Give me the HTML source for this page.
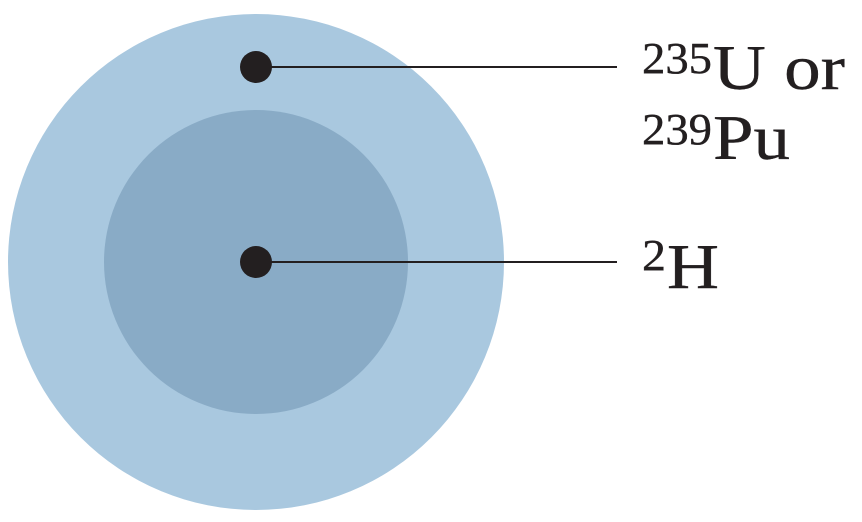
<!DOCTYPE html>
<html><head><meta charset="utf-8"><style>
html,body{margin:0;padding:0;background:#fff;}
svg{display:block;}
text{font-family:"Liberation Serif",serif;fill:#231f20;stroke:#231f20;stroke-width:0.4;}
</style></head><body>
<svg width="862" height="522" viewBox="0 0 862 522">
<circle cx="256" cy="262" r="248" fill="#a9c8df"/>
<circle cx="256" cy="262" r="152" fill="#89abc6"/>
<line x1="256" y1="67" x2="617" y2="67" stroke="#231f20" stroke-width="2"/>
<line x1="256" y1="262" x2="617" y2="262" stroke="#231f20" stroke-width="2"/>
<circle cx="256" cy="67" r="16" fill="#231f20"/>
<circle cx="256" cy="262" r="16" fill="#231f20"/>
<text font-size="64"><tspan x="642" y="73" font-size="44" textLength="70" lengthAdjust="spacingAndGlyphs">235</tspan><tspan x="713" y="89" textLength="132" lengthAdjust="spacingAndGlyphs">U or</tspan></text>
<text font-size="64"><tspan x="642" y="144" font-size="44" textLength="70" lengthAdjust="spacingAndGlyphs">239</tspan><tspan x="713" y="159" textLength="77" lengthAdjust="spacingAndGlyphs">Pu</tspan></text>
<text font-size="64"><tspan x="642" y="270" font-size="44" textLength="24" lengthAdjust="spacingAndGlyphs">2</tspan><tspan x="667" y="288" textLength="52" lengthAdjust="spacingAndGlyphs">H</tspan></text>
</svg>
</body></html>
